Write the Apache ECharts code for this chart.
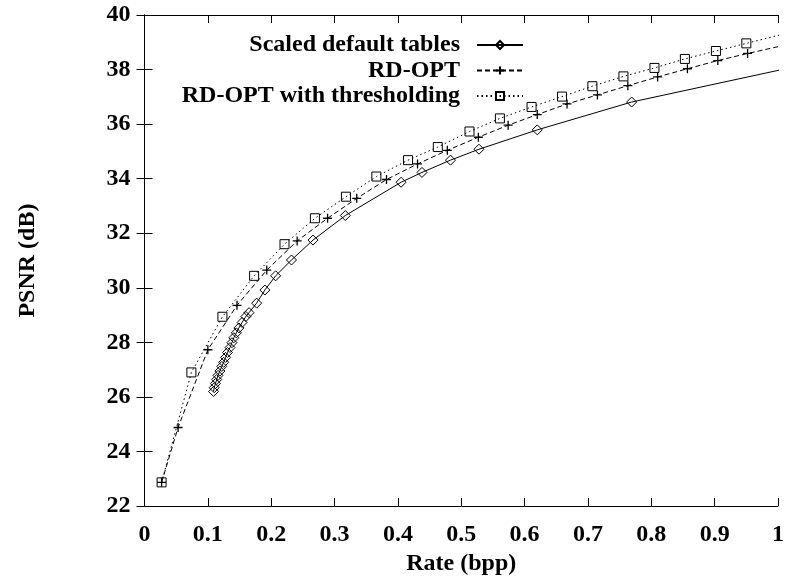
<!DOCTYPE html>
<html>
<head>
<meta charset="utf-8">
<script type="text/javascript" src="https://cdn.jsdelivr.net/npm/echarts@6/dist/echarts.min.js"></script>
<style>
    body { margin: 0; background: #fff; }
</style>
</head>
<body>
<div id="main" style="width: 787px;height:581px;"></div>
<script type="text/javascript">

    // series names
    var seriesNames = ['Scaled default tables', 'RD-OPT', 'RD-OPT with thresholding'];

    // [rate (bpp), PSNR (dB)]; last point of each lies past the right border
    var scaledDefault = [
        [0.109, 26.20], [0.110, 26.34], [0.112, 26.49], [0.114, 26.64], [0.116, 26.79],
        [0.119, 26.95], [0.122, 27.12], [0.125, 27.27], [0.128, 27.45], [0.131, 27.63],
        [0.135, 27.81], [0.138, 27.99], [0.141, 28.17], [0.145, 28.35], [0.149, 28.53],
        [0.154, 28.73], [0.160, 28.95], [0.165, 29.09], [0.177, 29.44], [0.190, 29.92],
        [0.207, 30.44], [0.232, 31.02], [0.266, 31.75], [0.317, 32.65], [0.405, 33.87],
        [0.438, 34.23], [0.483, 34.68], [0.528, 35.08], [0.620, 35.79], [0.769, 36.81],
        [1.020, 38.07]
    ];
    var rdOpt = [
        [0.027, 22.87], [0.053, 24.88], [0.100, 27.73], [0.146, 29.36], [0.193, 30.65],
        [0.241, 31.72], [0.289, 32.55], [0.335, 33.28], [0.382, 33.97], [0.431, 34.54],
        [0.478, 35.04], [0.527, 35.52], [0.574, 35.96], [0.620, 36.35], [0.667, 36.74],
        [0.715, 37.07], [0.763, 37.41], [0.810, 37.73], [0.857, 38.03], [0.905, 38.33],
        [0.952, 38.59], [1.010, 38.89]
    ];
    var rdOptThresh = [
        [0.027, 22.87], [0.074, 26.90], [0.123, 28.94], [0.173, 30.44], [0.221, 31.60],
        [0.269, 32.55], [0.318, 33.34], [0.366, 34.08], [0.416, 34.68], [0.463, 35.16],
        [0.513, 35.73], [0.561, 36.21], [0.611, 36.63], [0.659, 37.01], [0.707, 37.39],
        [0.756, 37.75], [0.805, 38.06], [0.853, 38.39], [0.902, 38.68], [0.950, 38.96],
        [1.010, 39.31]
    ];

    // tick labels
    var xTicks = [0, 0.1, 0.2, 0.3, 0.4, 0.5, 0.6, 0.7, 0.8, 0.9, 1];
    var yTicks = [22, 24, 26, 28, 30, 32, 34, 36, 38, 40];

    var font = 'Liberation Serif';
    var plusSymbol = 'path://M0,5L10,5M5,0L5,10';

    function makeXAxis(pos, showLabel) {
        return {
            type: 'value',
            position: pos,
            min: xTicks[0],
            max: xTicks[xTicks.length - 1],
            interval: 0.1,
            name: showLabel ? 'Rate (bpp)' : '',
            nameLocation: 'middle',
            nameGap: 35,
            nameTextStyle: {fontFamily: font, fontWeight: 'bold', fontSize: 24, color: '#000'},
            axisLine: {lineStyle: {color: '#000', width: 1}},
            axisTick: {show: true, inside: true, length: 8, lineStyle: {color: '#000'}},
            axisLabel: {
                show: showLabel, margin: 17,
                fontFamily: font, fontWeight: 'bold', fontSize: 24, color: '#000',
                formatter: function (v) { return String(+v.toFixed(1)); }
            },
            splitLine: {show: false}
        };
    }

    function makeYAxis(pos, showLabel) {
        return {
            type: 'value',
            position: pos,
            min: yTicks[0],
            max: yTicks[yTicks.length - 1],
            interval: 2,
            name: showLabel ? 'PSNR (dB)' : '',
            nameLocation: 'middle',
            nameGap: 105,
            nameTextStyle: {fontFamily: font, fontWeight: 'bold', fontSize: 24, color: '#000'},
            axisLine: {show: true, lineStyle: {color: '#000', width: 1}},
            axisTick: {show: true, inside: true, length: 8, lineStyle: {color: '#000'}},
            axisLabel: {
                show: showLabel, margin: 14,
                fontFamily: font, fontWeight: 'bold', fontSize: 24, color: '#000'
            },
            splitLine: {show: false}
        };
    }

    var myChart = echarts.init(document.getElementById('main'));

    var option = {
        animation: false,
        backgroundColor: '#fff',
        grid: {left: 144.5, right: 7, top: 15, bottom: 65, containLabel: false},
        legend: {
            orient: 'vertical',
            align: 'right',
            right: 263,
            top: 33,
            padding: 0,
            itemWidth: 46,
            itemHeight: 10,
            itemGap: 1.5,
            textStyle: {
                fontFamily: font, fontWeight: 'bold', fontSize: 24, color: '#000',
                lineHeight: 24
            },
            formatter: function (name) { return name + '\u00a0\u00a0'; },
            data: seriesNames
        },
        xAxis: [makeXAxis('bottom', true), makeXAxis('top', false)],
        yAxis: [makeYAxis('left', true), makeYAxis('right', false)],
        series: [{
            name: seriesNames[0],
            type: 'line',
            data: scaledDefault,
            symbol: 'diamond',
            symbolSize: 10,
            clip: true,
            lineStyle: {color: '#000', width: 1, type: 'solid'},
            itemStyle: {color: 'rgba(0,0,0,0)', borderColor: '#000', borderWidth: 1}
        }, {
            name: seriesNames[1],
            type: 'line',
            data: rdOpt,
            symbol: plusSymbol,
            symbolSize: 9,
            clip: true,
            lineStyle: {color: '#000', width: 1, type: [5, 3]},
            itemStyle: {color: 'rgba(0,0,0,0)', borderColor: '#000', borderWidth: 1.3}
        }, {
            name: seriesNames[2],
            type: 'line',
            data: rdOptThresh,
            symbol: 'rect',
            symbolSize: 9,
            clip: true,
            lineStyle: {color: '#000', width: 1, type: [1.5, 3]},
            itemStyle: {color: 'rgba(0,0,0,0)', borderColor: '#000', borderWidth: 1}
        }]
    };

    myChart.setOption(option);

</script>
</body>
</html>
